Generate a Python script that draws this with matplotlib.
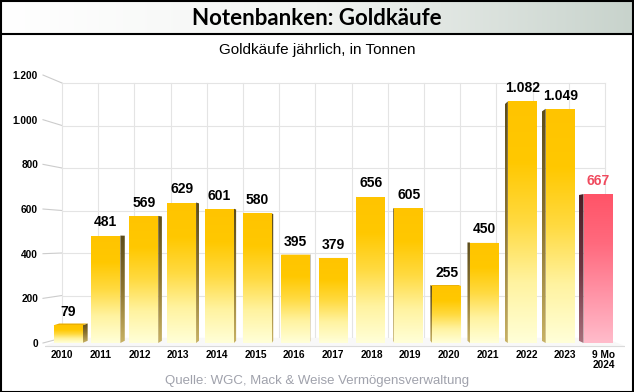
import numpy as np
import matplotlib
matplotlib.use('Agg')
import matplotlib.pyplot as plt
from matplotlib.colors import LinearSegmentedColormap
from matplotlib.patches import Polygon, Rectangle

years = ['2010', '2011', '2012', '2013', '2014', '2015', '2016', '2017',
         '2018', '2019', '2020', '2021', '2022', '2023', '9 Mo\n2024']
tonnes = [79, 481, 569, 629, 601, 580, 395, 379, 656, 605, 255, 450, 1082, 1049, 667]
highlight = [False] * 14 + [True]
yticks = [0, 200, 400, 600, 800, 1000, 1200]

title = 'Notenbanken: Goldkäufe'
subtitle = 'Goldkäufe jährlich, in Tonnen'
source = 'Quelle: WGC, Mack & Weise Vermögensverwaltung'

W, H = 634, 392
fig = plt.figure(figsize=(W / 100, H / 100), dpi=100)
fig.patch.set_facecolor('white')

# pixel geometry of the pseudo-3d chart (front plane and back wall)
X0, PX = 68.0, 37.86      # px of category 0, px per category
Y0, PY = 343.0, 0.2233    # px of value 0, px per tonne
WX0, WPX = 80.1, 36.2     # back wall: category centres
WY0, WPY = 338.0, 0.2125  # back wall: values
DEPTH = 0.45

def to_data(px, py):
    return (px - X0) / PX, (Y0 - py) / PY

def back(u, v, f=DEPTH):
    fx, fy = X0 + PX * u, Y0 - PY * v
    wx, wy = WX0 + WPX * u, WY0 - WPY * v
    return to_data(fx + f * (wx - fx), fy + f * (wy - fy))

ax_l, ax_r, ax_t, ax_b = 45, 625, 70, 348
ax = fig.add_axes([ax_l / W, (H - ax_b) / H, (ax_r - ax_l) / W, (ax_b - ax_t) / H])
xlim = to_data(ax_l, 0)[0], to_data(ax_r, 0)[0]
ylim = to_data(0, ax_b)[1], to_data(0, ax_t)[1]

for s in ax.spines.values():
    s.set_visible(False)

# back wall grid
wall_left, wall_right = 62, 605
grid_c = '#E4E4E4'
for v in yticks:
    x1, y1 = to_data(wall_left, WY0 - WPY * v)
    x2, _ = to_data(wall_right, 0)
    ax.plot([x1, x2], [y1, y1], color=grid_c, lw=0.8, zorder=0)
    tx, ty = to_data(43, Y0 - PY * v)
    ax.plot([tx, x1], [ty, y1], color='#CCCCCC', lw=0.8, clip_on=False, zorder=0)
for k in range(16):
    x, yb = to_data(62 + 36.2 * k, WY0)
    _, yt = to_data(0, WY0 - WPY * 1200)
    ax.plot([x, x], [yb, yt], color=grid_c, lw=0.8, zorder=0)

# floor
fl = [to_data(ax_l, 346), to_data(ax_r, 346), to_data(wall_right, WY0), to_data(wall_left, WY0)]
ax.add_patch(Polygon(fl, closed=True, facecolor='#F8F8F8', edgecolor='none', zorder=0.5))
ax.plot([fl[0][0], fl[1][0]], [fl[0][1], fl[1][1]], color='#DADADA', lw=0.8, zorder=0.6)

gold = LinearSegmentedColormap.from_list('gold', ['#FFFFD8', '#FFF3A0', '#FFDA40', '#FFC800', '#FFC400'])
red = LinearSegmentedColormap.from_list('red', ['#FFBCCB', '#FF93A6', '#FF6A7E', '#FF5468'])
gold_side = LinearSegmentedColormap.from_list('gs', ['#C8B264', '#8C7430', '#5C4C1A'])
red_side = LinearSegmentedColormap.from_list('rs', ['#A8707C', '#6E3440', '#4A1E26'])
grad = np.linspace(0, 1, 256).reshape(-1, 1)

def fill_grad(pts, cmap, z):
    poly = Polygon(pts, closed=True, facecolor='none', edgecolor='none')
    ax.add_patch(poly)
    xs = [p[0] for p in pts]
    ys = [p[1] for p in pts]
    im = ax.imshow(grad, cmap=cmap, origin='lower', aspect='auto', zorder=z,
                   extent=[min(xs), max(xs), min(ys), max(ys)])
    im.set_clip_path(poly)

bw = 29 / PX
mid = 7.3
for i, (v, hl) in enumerate(zip(tonnes, highlight)):
    front_cm = red if hl else gold
    side_cm = red_side if hl else gold_side
    x1, x2 = i - bw / 2, i + bw / 2
    z = 2 + abs(i - mid) * 0.01
    # side face
    ex = x2 if i < mid else x1
    side = [(ex, v), back(ex, v), back(ex, 0), (ex, 0)]
    fill_grad(side, side_cm, z)
    # top face (only where it is seen from above)
    if back(i, v)[1] > v:
        top = [(x1, v), (x2, v), back(x2, v), back(x1, v)]
        ax.add_patch(Polygon(top, closed=True, facecolor='#EBB000' if not hl else '#E04A5C',
                             edgecolor='none', zorder=z))
    fill_grad([(x1, 0), (x2, 0), (x2, v), (x1, v)], front_cm, z + 0.1)
    lbl = f'{v:,}'.replace(',', '.')
    ax.annotate(lbl, (i, v), xytext=(0, 4.5), textcoords='offset points',
                ha='center', va='bottom', fontsize=10, fontweight='bold',
                family='Liberation Sans', color='#F04A5E' if hl else 'black', zorder=5)

ax.set_xlim(xlim)
ax.set_ylim(ylim)

ax.set_yticks([to_data(0, Y0 - PY * v)[1] for v in yticks])
ax.set_yticklabels([f'{v:,}'.replace(',', '.') for v in yticks])
label_pos = [to_data(62 + 38.7 * k, 0)[0] for k in range(len(years))]
ax.set_xticks(label_pos)
ax.set_xticklabels(years, linespacing=0.95)
ax.tick_params(axis='both', length=0, labelsize=7.3)
ax.tick_params(axis='y', pad=5)
ax.tick_params(axis='x', pad=1.5)
for t in ax.get_xticklabels() + ax.get_yticklabels():
    t.set_fontweight('bold')
    t.set_family('Liberation Sans')

# title band
band_h = 34
tax = fig.add_axes([0, (H - band_h) / H, 1, band_h / H])
band = LinearSegmentedColormap.from_list('band', ['#FFFFFF', '#F2F4F2', '#C8D3CC'])
tax.imshow(np.linspace(0, 1, 256).reshape(1, -1), cmap=band, aspect='auto', extent=[0, 1, 0, 1])
tax.set_xlim(0, 1)
tax.set_ylim(0, 1)
tax.axis('off')
tax.text(0.5, 0.47, title, ha='center', va='center', fontsize=16, fontweight='bold',
         family=['Lato', 'DejaVu Sans'], color='black')

fig.text(0.5, 1 - 50 / H, subtitle, ha='center', va='center', fontsize=11,
         family=['Liberation Sans Narrow', 'Liberation Sans'], color='black')
fig.text(0.5, 1 - 381 / H, source, ha='center', va='center', fontsize=9.5,
         family='Liberation Sans', color='#A0A2AC')

fig.add_artist(plt.Line2D([0, 1], [1 - band_h / H, 1 - band_h / H], color='black', lw=1.5))
fig.add_artist(Rectangle((0.5 / W, 0.5 / H), 1 - 1.5 / W, 1 - 1.5 / H, fill=False,
                         edgecolor='black', lw=1.5, transform=fig.transFigure))

fig.savefig('out.png', dpi=100, facecolor='white')
